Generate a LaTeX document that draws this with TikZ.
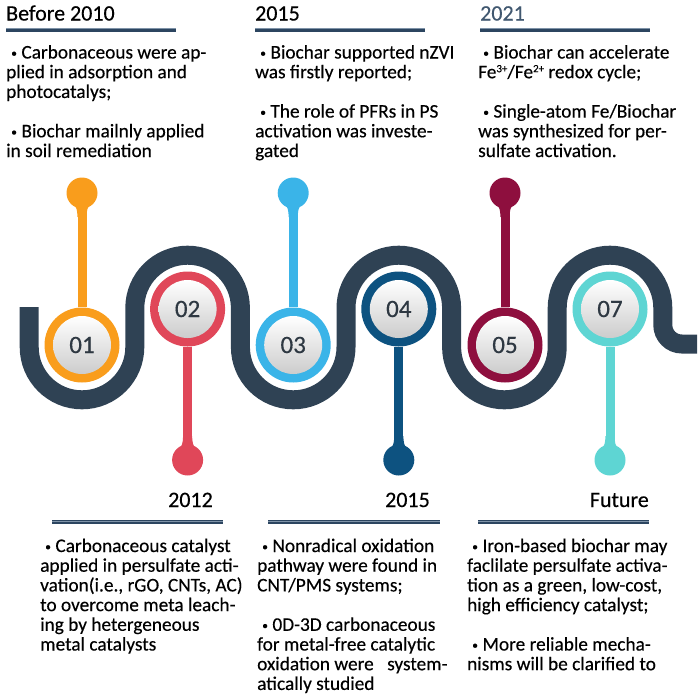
\documentclass[tikz,border=0pt]{standalone}
\usepackage{fontspec}
\usepackage{graphicx}
\setmainfont{Carlito}[FakeBold=0.35]
\definecolor{wave}{HTML}{2F4254}
\definecolor{cA}{HTML}{F99D1C}
\definecolor{cB}{HTML}{E04759}
\definecolor{cC}{HTML}{3AB4E8}
\definecolor{cD}{HTML}{0D5280}
\definecolor{cE}{HTML}{8E0F3E}
\definecolor{cF}{HTML}{5ED5D3}
\definecolor{rule}{HTML}{2C4560}
\definecolor{rulelt}{HTML}{7F93A8}
\definecolor{numc}{HTML}{2E3842}
\newcommand\tblock[1]{\vtop{\baselineskip=19.7pt\lineskiplimit=-100pt\halign{##\hfil\cr#1\crcr}}}
\newcommand\bul{\kern5pt\raisebox{1.5pt}{\scalebox{.6}{\textbullet}}\kern4.5pt}
\newcommand\sups[1]{\raisebox{6pt}{\fontsize{11}{11}\selectfont #1}}
\tikzset{
  body/.style={anchor=base west, inner sep=0pt, font=\fontsize{19.3}{19.7}\selectfont, text=black},
  head/.style={inner sep=0pt, font=\fontsize{22}{24}\selectfont, text=black},
  ring/.style={circle, minimum size=75pt, inner sep=0pt},
  disk/.style={circle, minimum size=58pt, inner sep=0pt, top color=white, bottom color=black!20, text=numc, font=\fontsize{25}{25}\selectfont},
  ball/.style={circle, minimum size=31pt, inner sep=0pt},
  stem/.style={line width=9pt},
  hrule/.style={line width=4pt, rule},
  hrulelt/.style={line width=1pt, rulelt},
}
\begin{document}
\begin{tikzpicture}[x=1pt,y=-1pt]
\useasboundingbox (0,0) rectangle (700,699);
% wave
\draw[wave, line width=19pt]
  (29.2,307) -- (29.2,347) arc[start angle=180, end angle=0, radius=52.8]
  -- (134.8,308) arc[start angle=180, end angle=360, radius=52.8]
  -- (240.4,347) arc[start angle=180, end angle=0, radius=52.8]
  -- (346,308) arc[start angle=180, end angle=360, radius=52.8]
  -- (451.6,347) arc[start angle=180, end angle=0, radius=52.8]
  -- (557.2,308) arc[start angle=180, end angle=360, radius=52.8]
  -- (662.8,325) arc[start angle=180, end angle=90, radius=19]
  -- (697,344);
% milestones
\foreach \n/\lab/\x/\y/\by/\s/\col in {1/01/82/345/193/1/cA, 2/02/187.6/309/460/-1/cB, 3/03/293.2/345/193/1/cC, 4/04/398.8/309/460/-1/cD, 5/05/505/345/193/1/cE, 7/07/610/309/460/-1/cF}{
  \node[ring, fill=\col] (c\n) at (\x,\y) {};
  \node[ball, fill=\col] (b\n) at (\x,\by) {};
  \draw[stem, \col] (c\n) -- (b\n);
  \fill[\col] (\x-9,\by+\s*9) .. controls (\x-5,\by+\s*16) .. (\x-4.5,\by+\s*24)
    -- (\x+4.5,\by+\s*24) .. controls (\x+5,\by+\s*16) .. (\x+9,\by+\s*9) -- cycle;
  \node[disk] (d\n) at (\x,\y) {\lab};
}
% headings and rules
\node[head, anchor=base west] (h1) at (6,20.5) {Before 2010};
\node[head, anchor=base west] (h2) at (255,20.5) {2015};
\node[head, anchor=base west, text=rule!90] (h3) at (480,20.5) {2021};
\node[head, anchor=base east] (h4) at (213,507) {2012};
\node[head, anchor=base east] (h5) at (430,507) {2015};
\node[head, anchor=base east] (h6) at (649,507) {Future};
\foreach \xa/\xb/\yr in {6/176/29.5, 255/425/29.5, 480/650/29.5, 52/223/522, 268/440/522, 478/649/522}{
  \draw[hrule] (\xa,\yr) -- (\xb,\yr);
  \draw[hrulelt] (\xa,\yr-0.6) -- (\xb,\yr-0.6);
}
% texts
\node[body] (t1) at (6,58.5) {\tblock{\bul Carbonaceous were ap-\cr plied in adsorption and\cr photocatalys;\cr\cr \bul Biochar mailnly applied\cr in soil remediation}};
\node[body] (t2) at (255,58.5) {\tblock{\bul Biochar supported nZVI\cr was firstly reported;\cr\cr \bul The role of PFRs in PS\cr activation was investe-\cr gated}};
\node[body] (t3) at (478,58.5) {\tblock{\bul Biochar can accelerate\cr Fe\sups{3+}/Fe\sups{2+} redox cycle;\cr\cr \bul Single-atom Fe/Biochar\cr was synthesized for per-\cr sulfate activation.}};
\node[body] (t4) at (40,552) {\tblock{\bul Carbonaceous catalyst\cr applied in persulfate acti-\cr vation(i.e., rGO, CNTs, AC)\cr to overcome meta leach-\cr ing by hetergeneous\cr metal catalysts}};
\node[body] (t5) at (257,552) {\tblock{\bul Nonradical oxidation\cr pathway were found in\cr CNT/PMS systems;\cr\cr \bul 0D-3D carbonaceous\cr for metal-free catalytic\cr oxidation were\hspace{0.7em}system-\cr atically studied}};
\node[body] (t6) at (467,552) {\tblock{\bul Iron-based biochar may\cr faclilate persulfate activa-\cr tion as a green, low-cost,\cr high efficiency catalyst;\cr\cr \bul More reliable mecha-\cr nisms will be clarified to}};
\end{tikzpicture}
\end{document}
